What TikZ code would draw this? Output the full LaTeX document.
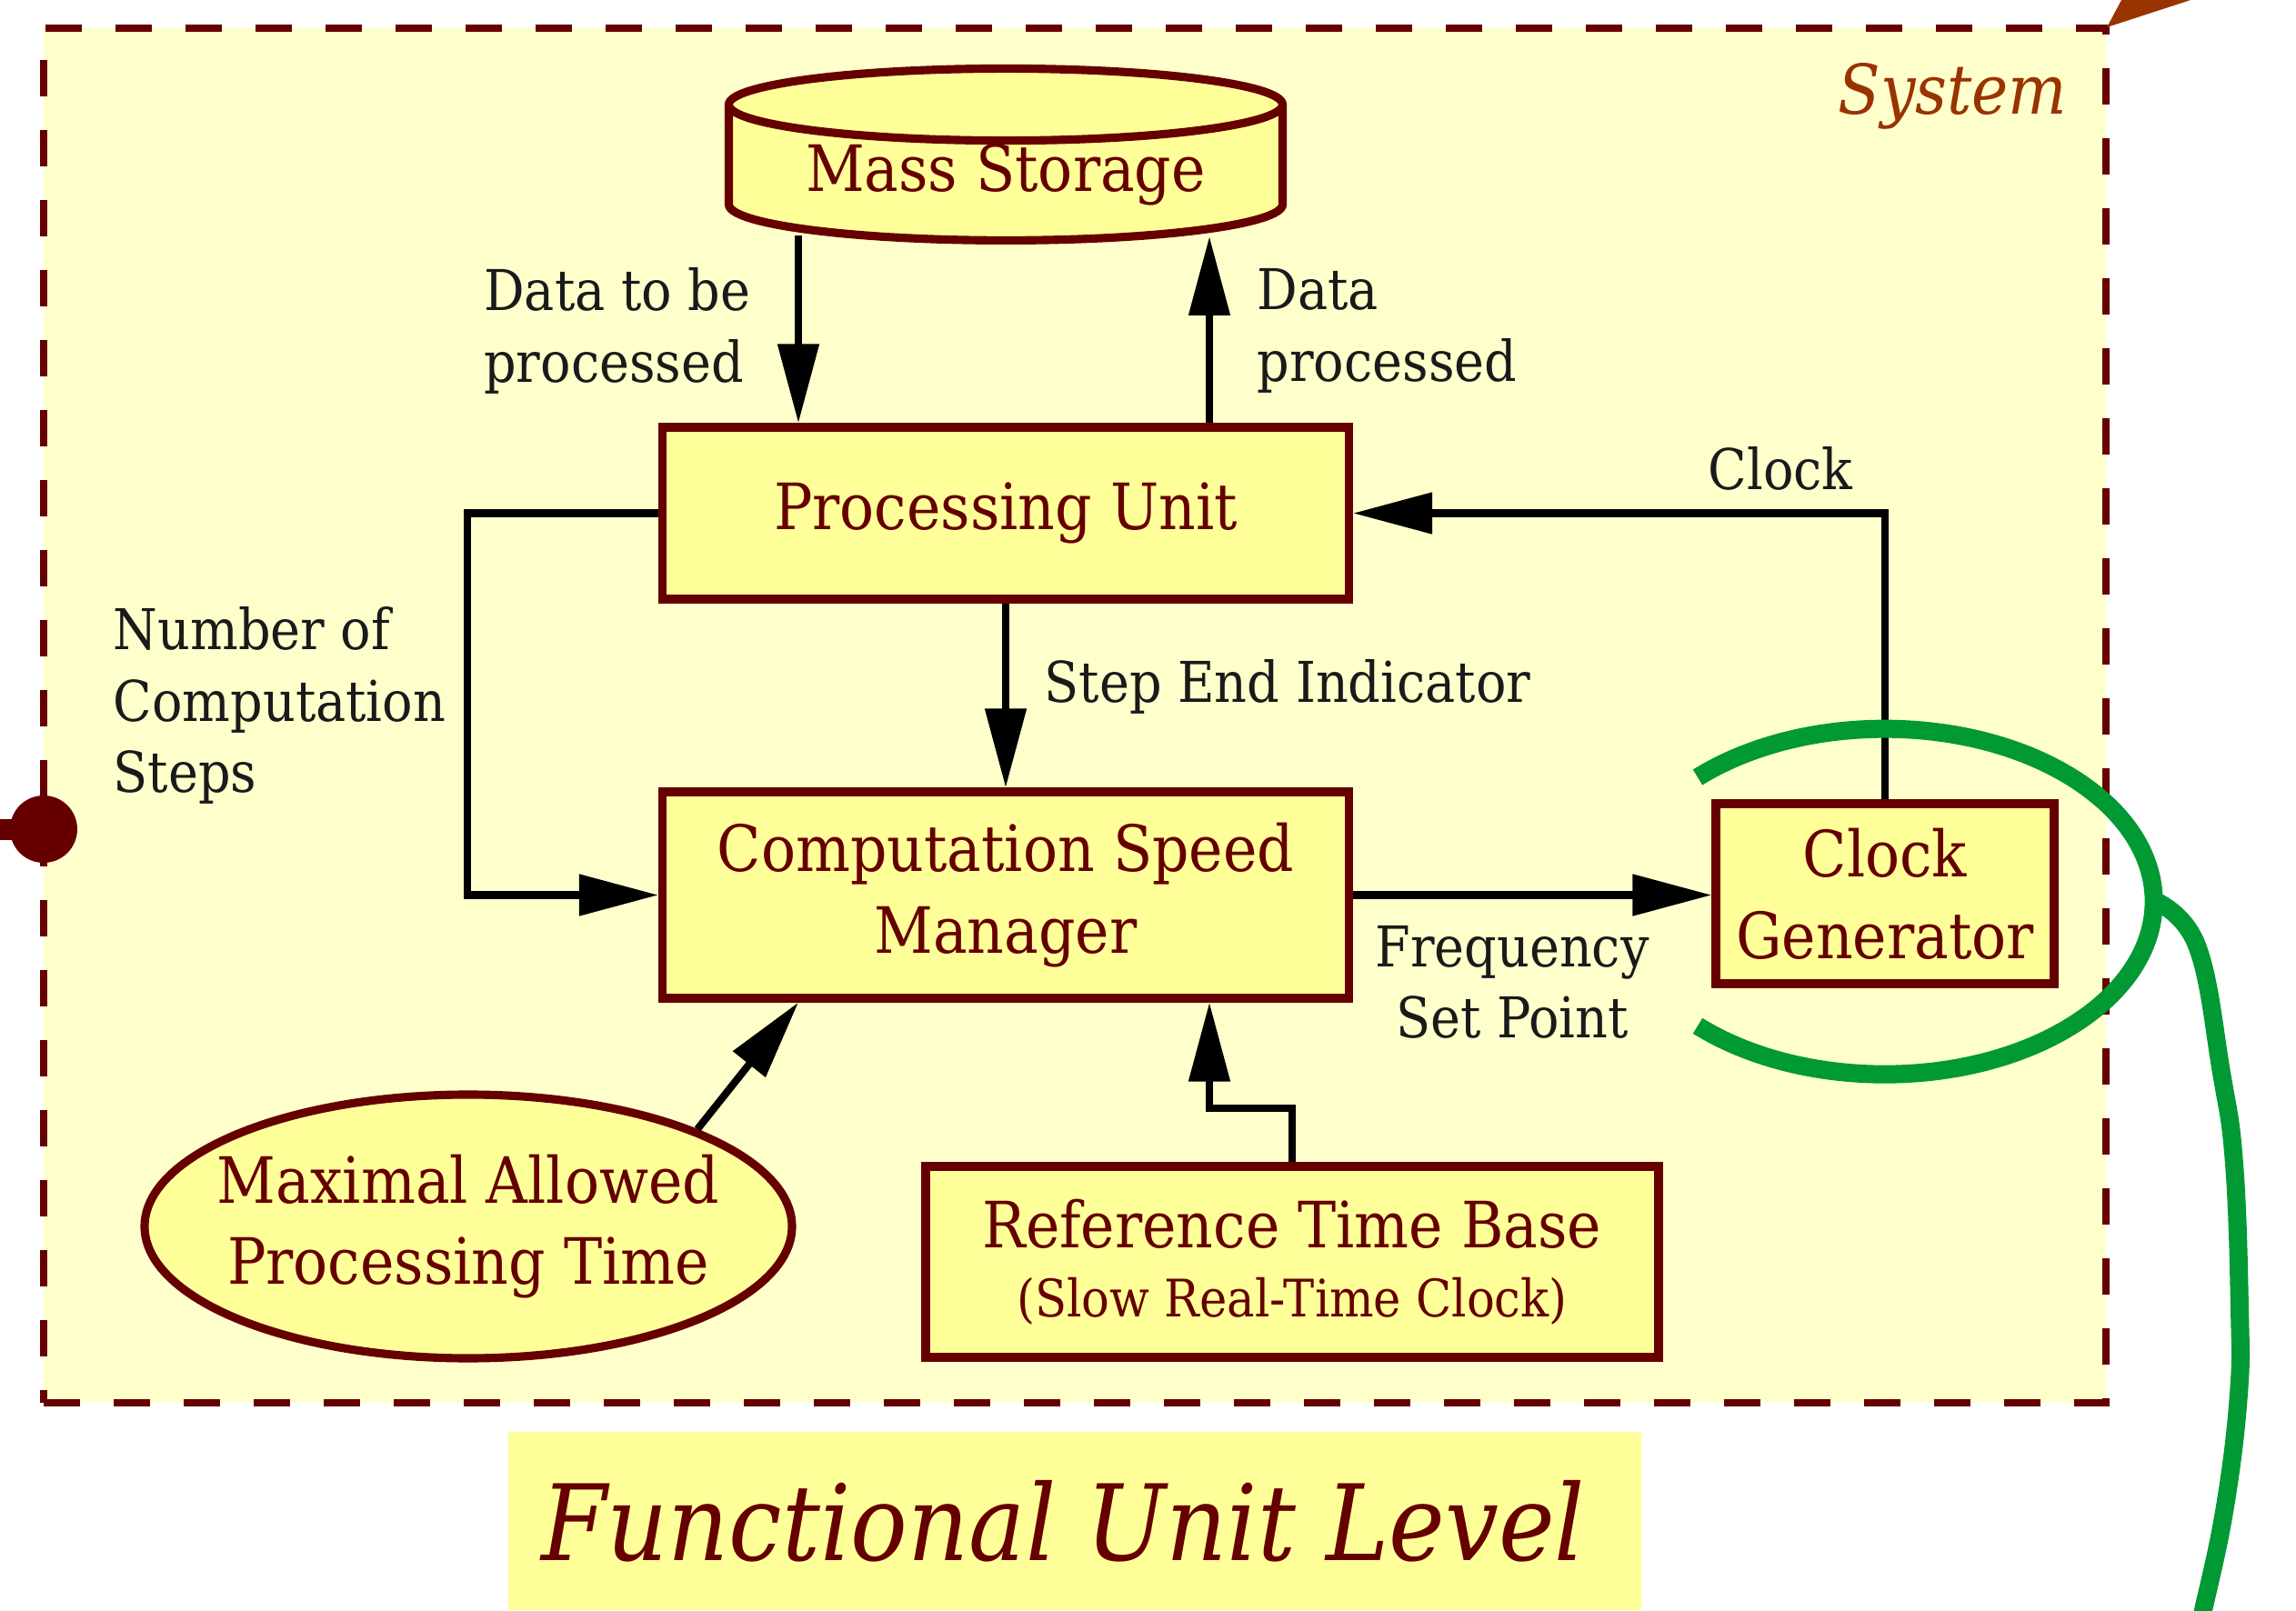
\documentclass[tikz,border=0pt]{standalone}
\usepackage{fontspec}
\setmainfont{DejaVu Serif}
\newfontfamily\condserif{DejaVu Serif Condensed}
\usetikzlibrary{shapes.geometric,arrows.meta}
\definecolor{boxline}{HTML}{660000}
\definecolor{boxfill}{HTML}{FFFF99}
\definecolor{sysfill}{HTML}{FFFFCC}
\definecolor{sysname}{HTML}{993300}
\definecolor{zoomgreen}{HTML}{009933}
\definecolor{lbltext}{HTML}{1A1A1A}

\begin{document}
\begin{tikzpicture}[
    unit/.style={draw=boxline, line width=2.6pt, fill=boxfill, text=boxline, align=center,
        inner sep=0pt, font=\condserif\fontsize{20}{25.5}\selectfont},
    storage/.style={unit, cylinder, shape border rotate=90, aspect=0.18, inner ysep=-0.2cm,
        cylinder uses custom fill, cylinder body fill=boxfill, cylinder end fill=sysfill},
    oval/.style={unit, ellipse, inner xsep=-1.5cm, inner ysep=-0.6cm},
    lbl/.style={text=lbltext, align=left, inner sep=0pt, font=\condserif\fontsize{17.6}{22.3}\selectfont},
    flow/.style={line width=2.3pt, -{Triangle[length=8.7mm, width=4.4mm]}},
]
    \useasboundingbox (0,0) rectangle (25.25,17.71);
    \clip (0,0) rectangle (25.25,17.71);

    % System frame
    \node[draw=boxline, line width=0.08cm, dash pattern=on 0.4cm off 0.37cm, fill=sysfill,
        minimum width=22.68cm, minimum height=15.12cm, inner sep=0pt] (sys) at (11.82,9.84) {};
    \node[anchor=east, text=sysname, inner sep=0pt, font=\condserif\itshape\fontsize{21.5}{26}\selectfont] (sysname) at (22.74,16.65) {System};
    \fill[sysname] (23.17,17.41) -- (23.78,18.55) -- (24.40,17.81) -- cycle;
    \draw[boxline, line width=0.23cm] (0,8.59) -- (0.48,8.59);
    \fill[boxline] (0.48,8.59) circle (0.37);

    % Functional units
    \node[storage, minimum width=6.09cm, minimum height=1.89cm] (ms) at (11.06,15.79) {Mass Storage};
    \node[unit, minimum width=7.55cm, minimum height=1.89cm] (pu) at (11.06,12.065) {Processing Unit};
    \node[unit, minimum width=7.55cm, minimum height=2.27cm] (csm) at (11.06,7.865) {Computation Speed\\Manager};
    \node[unit, minimum width=3.72cm, minimum height=1.98cm] (cg) at (20.73,7.88) {Clock\\Generator};
    \node[unit, minimum width=8.06cm, minimum height=2.10cm] (rtb) at (14.21,3.83)
        {Reference Time Base\\[-4pt]{\fontsize{16.2}{20}\selectfont(Slow Real-Time Clock)}};
    \node[oval, minimum width=7.12cm, minimum height=2.90cm] (mapt) at (5.15,4.22) {Maximal Allowed\\Processing Time};

    % Connections
    \draw[flow] ([xshift=-2.28cm,yshift=0.1cm]ms.south) -- ([xshift=-2.28cm]pu.north);
    \draw[flow] ([xshift=2.24cm]pu.north) -- ([xshift=2.24cm,yshift=0.09cm]ms.south);
    \draw[flow] (pu.west) -- ++(-2.095,0) |- (csm.west);
    \draw[flow] (pu.south) -- (csm.north);
    \draw[flow] (cg.north) |- (pu.east);
    \draw[flow] (csm.east) -- (csm.east -| cg.west);
    \draw[flow] (rtb.north) -- ++(0,0.59) -| ([xshift=2.24cm]csm.south);
    \draw[flow] (mapt.23) -- ([xshift=-2.28cm]csm.south);

    % Labels
    \node[lbl, anchor=east] (dtbp) at (8.26,14.07) {Data to be\\processed};
    \node[lbl, anchor=west] (dp) at (13.82,14.07) {Data\\processed};
    \node[lbl] (clk) at (19.58,12.56) {Clock};
    \node[lbl, anchor=west] (sei) at (11.48,10.16) {Step End Indicator};
    \node[lbl, anchor=west] (ncs) at (1.24,9.95) {Number of\\Computation\\Steps};
    \node[lbl, align=center] (fsp) at (16.63,6.905) {Frequency\\Set Point};

    % Zoom marker
    \draw[zoomgreen, line width=0.2cm] (18.67,9.16) arc[start angle=134, end angle=-134, x radius=2.96, y radius=1.90];
    \draw[zoomgreen, line width=0.2cm] plot[smooth, tension=0.7] coordinates
        {(23.70,7.80) (24.16,7.31) (24.43,5.91) (24.57,4.91) (24.63,3.31) (24.62,2.38) (24.47,1.14) (24.23,0) (24.1,-0.5)};

    % Level title
    \node[fill=boxfill, text=boxline, minimum width=12.46cm, minimum height=1.96cm, inner sep=0pt,
        font=\condserif\itshape\fontsize{33}{40}\selectfont] (lvl) at (11.82,0.98) {\hspace*{-0.26cm}Functional Unit Level};
\end{tikzpicture}
\end{document}
